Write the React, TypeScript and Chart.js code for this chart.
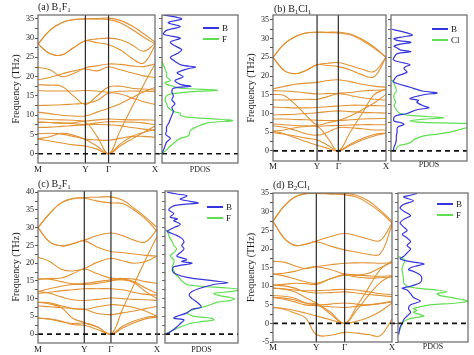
import React, { useEffect, useRef } from "react";
import { Chart, registerables } from "chart.js";

Chart.register(...registerables);

const SERIF = '"Liberation Serif", "Times New Roman", serif';
const BAND_COLOR = "#E39233";
const B_COLOR = "#3535DC";
const X_COLOR = "#5FDF50";
const TEXT = "#1a1a1a";

const kLabels = ["M", "Y", "Γ", "X"];

// y-axis ticks (labels shown on multiples of 5)
const ticksA = [0, 2.5, 5, 7.5, 10, 12.5, 15, 17.5, 20, 22.5, 25, 27.5, 30, 32.5, 35];
const ticksB = [0, 2.5, 5, 7.5, 10, 12.5, 15, 17.5, 20, 22.5, 25, 27.5, 30, 32.5, 35];
const ticksC = [0, 2.5, 5, 7.5, 10, 12.5, 15, 17.5, 20, 22.5, 25, 27.5, 30, 32.5, 35, 37.5, 40];
const ticksD = [-5, -2.5, 0, 2.5, 5, 7.5, 10, 12.5, 15, 17.5, 20, 22.5, 25, 27.5, 30, 32.5, 35];

// Band frequencies (THz) sampled at: M, 1/4, 1/2, 3/4 of M-Y, Y, mid Y-Γ, Γ, 1/4, 1/2, 3/4 of Γ-X, X
const bandsA = [
  [28.5, 32, 34, 34.8, 35, 35, 35.2, 34.6, 33.2, 31.2, 29],
  [28.5, 32, 34, 34.8, 35, 35, 34.8, 34, 32.3, 30.3, 28.5],
  [28.5, 26, 25.6, 27.5, 29.3, 29.8, 30, 29.6, 28.3, 26.6, 28.5],
  [28.5, 26, 25.6, 27.5, 29.3, 28.8, 28.3, 27, 24.8, 23.5, 28],
  [22.4, 21.8, 20, 20.8, 22.3, 22.8, 23.3, 23.2, 22.8, 22.6, 23.3],
  [19.2, 19.8, 20.7, 21.5, 22, 21.5, 22.5, 21.8, 21, 20.2, 19.8],
  [17.9, 17.8, 17.5, 15, 12.8, 15, 17.3, 17.5, 17, 16.8, 16.5],
  [16.4, 16.3, 16.3, 16.3, 16.4, 16.3, 16, 16.2, 16.3, 16.2, 16.1],
  [12.5, 12.6, 12.7, 12.9, 13.1, 13.8, 15.7, 15.5, 14.5, 13.5, 12.8],
  [10.8, 10.4, 10, 9.8, 9.8, 10.8, 11.8, 13, 14.5, 16, 17.2],
  [9.1, 8.9, 8.8, 8.7, 8.5, 8.8, 9, 8.9, 8.8, 8.8, 8.7],
  [8.2, 8.1, 8, 7.8, 7.6, 8, 8.3, 8.3, 8.2, 8, 7.5],
  [6.8, 6.9, 7.1, 7.3, 7.5, 7.6, 7.5, 7.3, 6.8, 6.4, 6.1],
  [5.2, 5.3, 5.1, 4.5, 3.8, 3.6, 3.5, 4, 4.5, 4.5, 4.3],
  [3.8, 3.3, 2.8, 2.3, 2, 1.2, 0, 2.5, 4.5, 5.5, 6.3],
  [3.9, 4.4, 5.3, 4.8, 3.7, 2, 0, 2, 3.8, 5.5, 7.2],
  [8.2, 8.1, 7.9, 8, 8.2, 4.5, 0, 6, 12, 17.8, 23.3],
];

const bandsB = [
  [25, 28.5, 30.5, 31.5, 31.7, 31.7, 31.7, 31.2, 29.8, 27.8, 25],
  [25, 28.5, 30.5, 31.5, 31.7, 31.6, 31.5, 31, 29.5, 27.5, 25],
  [25, 21.5, 20.6, 21.5, 23, 23.4, 23.6, 22.8, 21.8, 21.2, 25],
  [25, 21.5, 20.6, 21.5, 23, 22.8, 22.5, 21.6, 20.3, 19.8, 25],
  [16.6, 17.2, 17.8, 18.1, 18.3, 18.8, 19, 18.5, 17.8, 17.3, 17],
  [16.1, 16, 15.8, 15.5, 15.2, 15.3, 15.4, 15.6, 16, 16.2, 16.3],
  [15.1, 14.8, 12.5, 9.5, 7, 7.5, 8.1, 9.3, 11, 12.8, 15.1],
  [13.6, 13.6, 13.7, 13.8, 13.8, 14.5, 15.3, 14.8, 14.2, 13.8, 13.6],
  [11.7, 11.6, 11.5, 11.5, 11.6, 11.8, 12, 12.2, 12.2, 12.1, 12],
  [9.6, 9.7, 9.8, 10, 10.2, 10.5, 10.7, 10.5, 10.3, 10.2, 10.1],
  [8.5, 8.5, 8.4, 8.3, 8.2, 8.1, 8.1, 8.3, 8.5, 8.6, 8.7],
  [7.2, 7, 6.8, 6.7, 6.6, 6.7, 6.8, 6.9, 7, 7, 7],
  [6.7, 6.3, 5.5, 4.6, 4.2, 5, 6.2, 6.2, 5.9, 5.6, 5.6],
  [5.3, 4.6, 3.5, 2.5, 1.5, 0.7, 0, 1.8, 3.3, 4.4, 4.8],
  [4.9, 4.5, 4, 3.4, 2.9, 1.5, 0, 1.5, 2.9, 4, 4.7],
  [5.3, 5.6, 6.2, 6.5, 6.6, 3.5, 0, 5, 10, 15, 16.5],
];

const bandsC = [
  [30, 34, 37, 38.2, 38.5, 38.6, 38.7, 37.8, 35.5, 33, 30],
  [30, 34, 37, 38.2, 38.3, 37.5, 37, 36.8, 35, 32.5, 29],
  [30, 26, 24.9, 25.5, 26.5, 27.8, 28.5, 27.8, 26.5, 26, 29.5],
  [30, 26, 24.9, 25.5, 26.3, 24.5, 23.3, 23, 22.6, 22.2, 22],
  [21.7, 20.5, 18.3, 17.8, 18.5, 20.3, 21.3, 20.7, 20, 20.5, 22],
  [15.5, 15.7, 15.8, 17, 18.3, 17, 15.8, 15.7, 15.5, 14.8, 14.3],
  [15.5, 15.5, 14.8, 14.2, 14.3, 14.8, 15.3, 15.3, 14.5, 12, 10],
  [12, 12.8, 13.5, 14, 14, 14.3, 15, 15.5, 14.8, 13, 11.5],
  [11.5, 11.8, 12.2, 12.5, 12.8, 12.8, 12.8, 12.5, 11.8, 11.2, 11],
  [12, 11.5, 10.5, 9.7, 9.5, 9.8, 10.2, 10, 9.8, 9.7, 9.5],
  [9, 8.8, 8, 7.2, 7, 7.7, 8.3, 8.1, 7.5, 6.5, 5],
  [8, 7.7, 7.5, 7.2, 7, 5.8, 5.5, 6, 6.5, 7.2, 7.8],
  [4.5, 4.3, 3.7, 2.7, 2.5, 1.3, 0, 2.2, 3.7, 4.7, 5],
  [4.5, 4.2, 3.5, 3, 3.1, 2, 0, 1.7, 3.2, 4.3, 4.8],
  [9, 8.5, 7.5, 4.5, 3.3, 2, 0, 7, 14, 21, 27.5],
];

const bandsD = [
  [27.5, 31.5, 34, 34.9, 35, 35, 35, 34.5, 33, 30.5, 27.5],
  [27.5, 31.5, 34, 34.9, 35, 34.8, 34.6, 34, 32.3, 30, 27],
  [27.5, 23, 21, 21.3, 22.2, 23.4, 24.2, 23.6, 22.7, 22.3, 27],
  [27.5, 23, 21, 21.3, 22, 20.8, 19.8, 19.2, 18.6, 18.7, 26.5],
  [16.7, 16.5, 15.5, 14.8, 15.3, 15.8, 16.2, 16.3, 16.3, 16.2, 16.3],
  [13.3, 13.5, 14, 14.8, 15.2, 14.5, 13.3, 13, 13.5, 15, 16.5],
  [13.3, 12.8, 12, 11.2, 10.8, 12, 13.2, 13, 12.8, 12.7, 12.8],
  [10.3, 10.5, 10.8, 10.7, 10.5, 12, 13, 12.5, 12.2, 12.3, 12.5],
  [10.3, 10.1, 9.5, 8.5, 8.2, 8.3, 8.5, 8.2, 7.8, 7.5, 7.2],
  [9.5, 9.3, 9, 8.8, 8.8, 9, 9.2, 9, 8.5, 8, 7.8],
  [7.5, 7.3, 6.8, 5.5, 5, 5.2, 5.5, 5.2, 5, 5.3, 6],
  [7, 6.5, 5.8, 5, 4.8, 4.5, 4.3, 4.6, 5, 5.4, 5.8],
  [4.3, 3.8, 2.8, 1.5, -3, -3.2, -2.4, -2.6, -3, -3.3, 1.2],
  [4.3, 4, 3.5, 2.8, 2, 1, 0, 0.6, 1.6, 3.2, 5.5],
  [7, 6.8, 6.3, 5.5, 5.2, 2.5, 0, 4.5, 9.5, 14.5, 16.8],
  [9.5, 9.2, 8.5, 7, 5.5, 3, 0, 3.5, 7.5, 11, 13],
];

// PDOS: frequency (THz) and density (arbitrary units, 100 = frame width)
const pdosFreqA_B = [36, 35, 34, 33, 32, 31, 30, 29, 28, 27, 26, 25, 24, 23, 22.5, 22, 21, 20, 19, 18, 17.5, 17, 16, 15, 14, 13, 12, 11, 10, 9, 8, 7, 6, 5, 4, 3, 2, 1, 0];
const pdosA_B = [2, 26, 8, 24, 6, 2, 24, 11, 17, 26, 20, 11, 17, 26, 44, 33, 20, 28, 17, 24, 38, 15, 13, 15, 13, 17, 13, 15, 13, 11, 9, 6, 6, 5, 11, 6, 4, 2, 0];
const pdosFreqA_F = [24, 23, 22, 21, 20, 19, 18.5, 18, 17.5, 17, 16.5, 16, 15.5, 15, 14, 13, 12, 11, 10.5, 10, 9.5, 9, 8.6, 8, 7, 6, 5, 4.5, 4, 3, 2, 1, 0];
const pdosA_F = [0, 2, 4, 6, 6, 11, 4, 6, 15, 24, 73, 33, 11, 6, 4, 6, 8, 15, 24, 24, 33, 73, 93, 60, 46, 37, 36, 33, 24, 17, 11, 6, 0];

const pdosFreqB_B = [32.5, 32, 31, 30.5, 30, 29.5, 29, 28.5, 28, 27.5, 27, 26.5, 26, 25, 24.5, 24, 23.5, 23, 22.5, 22, 21, 20, 19, 18.5, 18, 17, 16, 15.5, 15, 14, 13.5, 13, 12, 11.5, 11, 10, 9.5, 9, 8, 7.5, 7, 6.5, 6, 5, 4, 3, 2, 1, 0];
const pdosB_B = [1, 12, 28, 17, 4, 8, 26, 12, 4, 8, 12, 26, 8, 4, 3, 6, 17, 25, 19, 17, 21, 8, 4, 3, 8, 25, 41, 61, 43, 25, 36, 34, 43, 50, 34, 21, 8, 4, 4, 14, 17, 10, 8, 8, 7, 7, 6, 4, 3];
const pdosFreqB_Cl = [19, 18, 17, 16, 15, 14, 13, 12, 11, 10, 9.5, 9, 8.8, 8.5, 8, 7.6, 7.2, 6.5, 6, 5.5, 5, 4.5, 4, 3, 2.5, 2, 1.5, 1, 0];
const pdosB_Cl = [1, 4, 6, 7, 4, 4, 6, 4, 7, 12, 25, 61, 69, 43, 25, 43, 104, 104, 96, 87, 78, 61, 43, 30, 28, 23, 12, 8, 6];

const pdosFreqC_B = [40, 39.5, 39, 38, 37, 36.5, 36, 35, 34, 33, 32.5, 32, 31, 30, 29.5, 29, 28, 27, 26, 25, 24, 23, 22, 21.5, 21, 20.5, 20, 19, 18, 17, 16, 15, 14.5, 14, 13, 12, 11, 10, 9, 8, 7.5, 7, 6, 5, 4.5, 4, 3, 2, 1, 0];
const pdosC_B = [3, 16, 30, 21, 46, 21, 10, 5, 12, 7, 17, 12, 21, 12, 7, 3, 14, 23, 26, 23, 26, 21, 16, 23, 30, 23, 37, 12, 10, 14, 30, 67, 86, 67, 49, 37, 33, 37, 44, 49, 49, 37, 30, 16, 12, 26, 21, 16, 10, 2];
const pdosFreqC_F = [29.5, 29, 28, 27, 26, 25, 24, 23, 22, 21, 20, 19, 18, 17, 16, 15, 14, 13.5, 13, 12.5, 12, 11.5, 11, 10, 9.5, 9, 8, 7, 6, 5, 4.5, 4, 3.5, 3, 2, 1, 0];
const pdosC_F = [0, 3, 5, 7, 10, 12, 16, 12, 7, 12, 12, 10, 12, 14, 19, 23, 30, 49, 86, 104, 90, 67, 72, 95, 90, 72, 58, 40, 30, 40, 63, 67, 49, 35, 21, 10, 0];

const pdosFreqD_B = [35, 34.5, 34, 33, 32, 31, 30, 29, 28, 27, 26, 25, 24, 23, 22, 21, 20, 19, 18, 17.5, 17, 16.5, 16, 15.5, 15, 14.5, 14, 13, 12, 11, 10, 9.5, 9, 8, 7, 6, 5, 4, 3, 2, 1, 0, -1, -2, -3];
const pdosD_B = [27, 18, 8, 22, 8, 3, 10, 18, 8, 3, 8, 13, 6, 13, 18, 13, 18, 13, 8, 3, 8, 22, 37, 27, 18, 15, 22, 32, 34, 32, 18, 6, 13, 18, 22, 32, 18, 15, 18, 13, 8, 6, 3, 2, 1];
const pdosFreqD_F = [18, 17.5, 17, 16, 15, 14, 13, 12, 11, 10, 9.5, 9, 8.5, 8, 7.5, 7, 6.5, 6, 5.5, 5, 4.5, 4, 3.5, 3, 2.5, 2, 1.5, 1, 0.5, 0, -1, -2];
const pdosD_F = [1, 6, 10, 8, 6, 6, 7, 8, 8, 13, 27, 56, 70, 56, 60, 75, 89, 100, 84, 46, 32, 22, 27, 22, 29, 37, 22, 13, 8, 6, 4, 2];

type Box = { L: number; R: number; T: number; B: number; pL: number; pR: number };
type PanelDef = {
  tag: string;
  n1: string;
  el: string;
  n2: string;
  legend2: string;
  bands: number[][];
  kY: number;
  kG: number;
  yMin: number;
  yMax: number;
  yTicks: number[];
  bFreq: number[];
  bDos: number[];
  xFreq: number[];
  xDos: number[];
  box: Box;
  labelY: number;
  titlePos: { left: number; top: number };
  legendPos: { x: number; y: number };
};

const panels: PanelDef[] = [
  {
    tag: "(a)", n1: "1", el: "F", n2: "1", legend2: "F",
    bands: bandsA, kY: 0.405, kG: 0.603, yMin: -2.4, yMax: 36, yTicks: ticksA,
    bFreq: pdosFreqA_B, bDos: pdosA_B, xFreq: pdosFreqA_F, xDos: pdosA_F,
    box: { L: 38, R: 155, T: 15, B: 163, pL: 162, pR: 238 }, labelY: 170,
    titlePos: { left: 38, top: 1 }, legendPos: { x: 203, y: 28 },
  },
  {
    tag: "(b)", n1: "1", el: "Cl", n2: "1", legend2: "Cl",
    bands: bandsB, kY: 0.39, kG: 0.578, yMin: -2.7, yMax: 36.3, yTicks: ticksB,
    bFreq: pdosFreqB_B, bDos: pdosB_B, xFreq: pdosFreqB_Cl, xDos: pdosB_Cl,
    box: { L: 273, R: 386, T: 15, B: 161, pL: 391, pR: 467 }, labelY: 165,
    titlePos: { left: 274, top: 3 }, legendPos: { x: 432, y: 29 },
  },
  {
    tag: "(c)", n1: "2", el: "F", n2: "1", legend2: "F",
    bands: bandsC, kY: 0.389, kG: 0.613, yMin: -2.5, yMax: 40.35, yTicks: ticksC,
    bFreq: pdosFreqC_B, bDos: pdosC_B, xFreq: pdosFreqC_F, xDos: pdosC_F,
    box: { L: 38, R: 157, T: 191, B: 343, pL: 165, pR: 238 }, labelY: 350,
    titlePos: { left: 38, top: 178 }, legendPos: { x: 207, y: 207 },
  },
  {
    tag: "(d)", n1: "2", el: "Cl", n2: "1", legend2: "F",
    bands: bandsD, kY: 0.364, kG: 0.602, yMin: -5, yMax: 35.1, yTicks: ticksD,
    bFreq: pdosFreqD_B, bDos: pdosD_B, xFreq: pdosFreqD_F, xDos: pdosD_F,
    box: { L: 273, R: 392, T: 193, B: 342, pL: 398, pR: 468 }, labelY: 347,
    titlePos: { left: 273, top: 179 }, legendPos: { x: 437, y: 204 },
  },
];

const framePlugin = {
  id: "frame",
  afterDatasetsDraw(chart: any) {
    const { ctx, chartArea } = chart;
    const { left, top, right, bottom } = chartArea;
    ctx.save();
    ctx.strokeStyle = "#666";
    ctx.lineWidth = 1.2;
    ctx.strokeRect(left, top, right - left, bottom - top);
    ctx.restore();
  },
};

const AXIS_W = 38;
const XAXIS_H = 18;
const TOP_PAD = 8;
const LABEL_FONT = 9;
const TICK_FONT = 8;

function bandGeom(p: PanelDef) {
  const left = p.box.L - AXIS_W;
  const top = p.box.T - TOP_PAD;
  const width = p.box.pL - left;
  const height = p.box.B + XAXIS_H - top;
  return { left, top, width, height };
}

function pdosGeom(p: PanelDef) {
  const left = p.box.pL - 3;
  const top = p.box.T - TOP_PAD;
  const width = p.box.pR + 1 - left;
  const height = p.box.B + XAXIS_H - top;
  return { left, top, width, height };
}

function yTickCallback(v: any) {
  return Number(v) % 5 === 0 ? String(v) : "";
}

function bandConfig(p: PanelDef): any {
  const { L, R, pL } = p.box;
  const kY = p.kY;
  const kG = p.kG;
  const kx = [0, kY * 0.25, kY * 0.5, kY * 0.75, kY, (kY + kG) / 2, kG, kG + (1 - kG) * 0.25, kG + (1 - kG) * 0.5, kG + (1 - kG) * 0.75, 1];
  const ext = 1 + (pL - R) / (R - L);
  const lh = LABEL_FONT * 1.2;
  const xPad = Math.max(0, p.labelY - p.box.B - lh / 2);
  const datasets: any[] = [
    {
      data: [{ x: 0, y: 0 }, { x: ext, y: 0 }],
      borderColor: "#111", borderWidth: 1.6, borderDash: [5, 4], pointRadius: 0, tension: 0, clip: false,
    },
    {
      data: [{ x: kY, y: p.yMin }, { x: kY, y: p.yMax }],
      borderColor: "#2a2a2a", borderWidth: 1.2, pointRadius: 0, tension: 0,
    },
    {
      data: [{ x: kG, y: p.yMin }, { x: kG, y: p.yMax }],
      borderColor: "#2a2a2a", borderWidth: 1.2, pointRadius: 0, tension: 0,
    },
    ...p.bands.map((b) => ({
      data: b.map((v, i) => ({ x: kx[i], y: v })),
      borderColor: BAND_COLOR, borderWidth: 1.1, pointRadius: 0, tension: 0.4,
    })),
  ];
  return {
    type: "line",
    data: { datasets },
    options: {
      responsive: false,
      animation: false,
      events: [],
      layout: { padding: { top: TOP_PAD, right: pL - R, left: 0, bottom: 0 } },
      plugins: { legend: { display: false }, tooltip: { enabled: false } },
      scales: {
        x: {
          type: "linear", min: 0, max: 1,
          grid: { display: false, drawTicks: false },
          border: { display: false },
          afterBuildTicks: (s: any) => {
            s.ticks = [0, kY, kG, 1].map((value) => ({ value }));
          },
          ticks: {
            callback: (_v: any, i: number) => kLabels[i],
            font: { family: SERIF, size: LABEL_FONT }, color: TEXT,
            padding: xPad, maxRotation: 0, autoSkip: false,
          },
          afterFit: (s: any) => { s.height = XAXIS_H; },
        },
        y: {
          type: "linear", min: p.yMin, max: p.yMax,
          grid: { drawOnChartArea: false, drawTicks: true, tickLength: 3, color: "#555" },
          border: { display: false },
          afterBuildTicks: (s: any) => {
            s.ticks = p.yTicks.map((value) => ({ value }));
          },
          ticks: {
            callback: yTickCallback, autoSkip: false,
            font: { family: SERIF, size: TICK_FONT }, color: TEXT, padding: 1,
          },
          title: {
            display: true, text: "Frequency (THz)", color: TEXT,
            font: { family: SERIF, size: 10 }, padding: { top: 10, bottom: 0 },
          },
          afterFit: (s: any) => { s.width = AXIS_W; },
        },
      },
    },
    plugins: [framePlugin],
  };
}

function pdosConfig(p: PanelDef): any {
  const lh = 8 * 1.2;
  const titlePadBottom = Math.max(0, p.box.B + XAXIS_H - p.labelY - lh / 2);
  const datasets: any[] = [
    {
      data: [{ x: 0, y: 0 }, { x: 100, y: 0 }],
      borderColor: "#111", borderWidth: 1.6, borderDash: [5, 4], pointRadius: 0, tension: 0,
    },
    {
      label: "B",
      data: p.bFreq.map((f, i) => ({ x: p.bDos[i], y: f })),
      borderColor: B_COLOR, borderWidth: 1.2, pointRadius: 0, tension: 0.3,
    },
    {
      label: p.legend2,
      data: p.xFreq.map((f, i) => ({ x: p.xDos[i], y: f })),
      borderColor: X_COLOR, borderWidth: 1.2, pointRadius: 0, tension: 0.3,
    },
  ];
  return {
    type: "line",
    data: { datasets },
    options: {
      responsive: false,
      animation: false,
      events: [],
      layout: { padding: { top: TOP_PAD, right: 1, left: 0, bottom: 0 } },
      plugins: { legend: { display: false }, tooltip: { enabled: false } },
      scales: {
        x: {
          type: "linear", min: 0, max: 100,
          grid: { display: false, drawTicks: false },
          border: { display: false },
          ticks: { display: false },
          title: {
            display: true, text: "PDOS", color: TEXT,
            font: { family: SERIF, size: 8 }, padding: { top: 0, bottom: titlePadBottom },
          },
          afterFit: (s: any) => { s.height = XAXIS_H; },
        },
        y: {
          type: "linear", min: p.yMin, max: p.yMax,
          grid: { drawOnChartArea: false, drawTicks: true, tickLength: 3, color: "#666" },
          border: { display: false },
          afterBuildTicks: (s: any) => {
            s.ticks = p.yTicks.map((value) => ({ value }));
          },
          ticks: { display: false },
          afterFit: (s: any) => { s.width = 3; },
        },
      },
    },
    plugins: [framePlugin],
  };
}

function ChartCanvas({ geom, build }: { geom: { left: number; top: number; width: number; height: number }; build: () => any }) {
  const ref = useRef<HTMLCanvasElement | null>(null);
  useEffect(() => {
    if (!ref.current) return;
    const chart = new Chart(ref.current, build());
    return () => chart.destroy();
  }, []);
  return (
    <canvas
      ref={ref}
      width={geom.width}
      height={geom.height}
      style={{ position: "absolute", left: geom.left, top: geom.top, width: geom.width, height: geom.height }}
    />
  );
}

function LegendRow({ x, y, color, label }: { x: number; y: number; color: string; label: string }) {
  return (
    <div
      style={{
        position: "absolute", left: x, top: y - 6, height: 12, display: "flex", alignItems: "center",
        font: `9px ${SERIF}`, color: TEXT, whiteSpace: "nowrap",
      }}
    >
      <div style={{ width: 16, height: 2, background: color }} />
      <span style={{ marginLeft: 3 }}>{label}</span>
    </div>
  );
}

const subStyle: React.CSSProperties = { fontSize: 7, verticalAlign: -2, lineHeight: 0 };

function Panel({ p }: { p: PanelDef }) {
  return (
    <>
      <ChartCanvas geom={bandGeom(p)} build={() => bandConfig(p)} />
      <ChartCanvas geom={pdosGeom(p)} build={() => pdosConfig(p)} />
      <div
        style={{
          position: "absolute", left: p.titlePos.left, top: p.titlePos.top, font: `10px ${SERIF}`,
          lineHeight: "12px", color: TEXT, whiteSpace: "nowrap",
        }}
      >
        {p.tag} B<span style={subStyle}>{p.n1}</span>
        {p.el}
        <span style={subStyle}>{p.n2}</span>
      </div>
      <LegendRow x={p.legendPos.x} y={p.legendPos.y} color={B_COLOR} label="B" />
      <LegendRow x={p.legendPos.x} y={p.legendPos.y + 11} color={X_COLOR} label={p.legend2} />
    </>
  );
}

export default function App() {
  return (
    <div style={{ position: "absolute", left: 0, top: 0, width: 474, height: 355, background: "#fff", overflow: "hidden" }}>
      {panels.map((p) => (
        <Panel key={p.tag} p={p} />
      ))}
    </div>
  );
}
